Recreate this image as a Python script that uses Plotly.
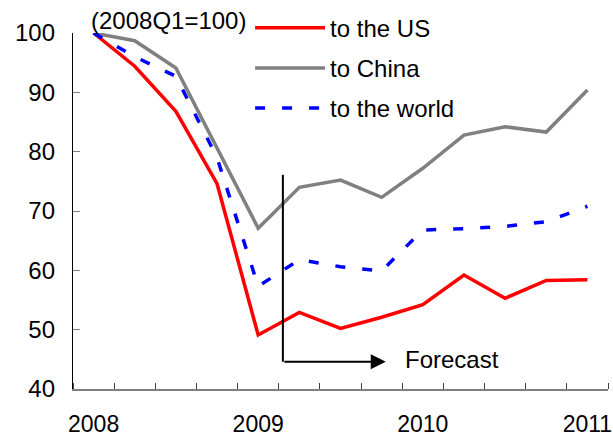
import plotly.graph_objects as go

# Quarterly export volume index, 2008Q1 = 100
quarters = ["2008Q1", "2008Q2", "2008Q3", "2008Q4",
            "2009Q1", "2009Q2", "2009Q3", "2009Q4",
            "2010Q1", "2010Q2", "2010Q3", "2010Q4",
            "2011Q1"]
to_us = [100, 94.4, 86.8, 74.6, 49.1, 52.9, 50.2, 52.1, 54.2, 59.2, 55.3, 58.3, 58.4]
to_china = [100, 98.7, 94.1, 80.5, 67.1, 74.0, 75.2, 72.3, 77.2, 82.8, 84.2, 83.3, 90.4]
to_world = [100, 96.0, 92.7, 79.0, 57.3, 61.8, 60.6, 59.9, 66.8, 67.0, 67.4, 68.2, 70.8]

year_labels = ["2008", "2009", "2010", "2011"]
year_pos = [quarters.index(y + "Q1") for y in year_labels]
x = list(range(len(quarters)))

FONT = "Liberation Sans, Arial, sans-serif"
FS = 24

fig = go.Figure()
series = [
    ("to the US", to_us, dict(color="#FF0000", width=3.5)),
    ("to China", to_china, dict(color="#808080", width=3.5)),
    ("to the world", to_world, dict(color="#0000FF", width=3.5, dash="10px,17px")),
]
for name, vals, line in series:
    fig.add_trace(go.Scatter(
        x=x, y=vals, mode="lines", name=name, line=line,
        legendgroup=name, customdata=quarters,
        hovertemplate="%{customdata}: %{y}<extra>" + name + "</extra>",
    ))

# forecast marker: vertical bar then arrow pointing right
fig.add_shape(type="line", x0=4.6, x1=4.6, y0=76.1, y1=44.6,
              xref="x", yref="y", line=dict(color="black", width=2))
fig.add_annotation(x=7.1, y=44.6, ax=4.6, ay=44.6, axref="x", ayref="y",
                   xref="x", yref="y", text="", showarrow=True,
                   arrowhead=2, arrowsize=1.5, arrowwidth=2, arrowcolor="black")
fig.add_annotation(x=7.53, y=44.9, xref="x", yref="y", text="Forecast",
                   showarrow=False, xanchor="left", yanchor="middle",
                   font=dict(size=FS, family=FONT, color="black"))

# base note
fig.add_annotation(x=0.179, y=1.0365, xref="paper", yref="paper",
                   text="(2008Q1=100)", showarrow=False,
                   xanchor="center", yanchor="middle",
                   font=dict(size=FS, family=FONT, color="black"))

fig.update_layout(
    width=613, height=440,
    margin=dict(l=73, r=5, t=33, b=51, autoexpand=False),
    plot_bgcolor="white", paper_bgcolor="white",
    font=dict(family=FONT, size=FS, color="black"),
    showlegend=True,
    legend=dict(x=0.331, y=1.077, xanchor="left", yanchor="top",
                bgcolor="rgba(0,0,0,0)", itemwidth=70,
                tracegroupgap=6, font=dict(size=FS, family=FONT)),
    xaxis=dict(
        range=[-0.5, 12.5], tickmode="array", tickvals=year_pos,
        ticktext=year_labels, ticks="", showgrid=False, zeroline=False,
        showline=True, linecolor="#808080", linewidth=1.5,
        ticklabelstandoff=14, ticklabeloverflow="allow",
        tickfont=dict(size=23, family=FONT, color="black"),
        minor=dict(tickmode="array", tickvals=[i - 0.5 for i in range(14)],
                   ticks="inside", ticklen=6, tickwidth=1, tickcolor="#404040",
                   showgrid=False),
    ),
    yaxis=dict(
        range=[40, 100], tickmode="linear", tick0=40, dtick=10,
        ticks="inside", ticklen=7, tickwidth=1, tickcolor="#808080",
        showgrid=False, zeroline=False, showline=True,
        linecolor="black", linewidth=1.3, ticklabelstandoff=12,
    ),
)

fig.write_html("out.html")
